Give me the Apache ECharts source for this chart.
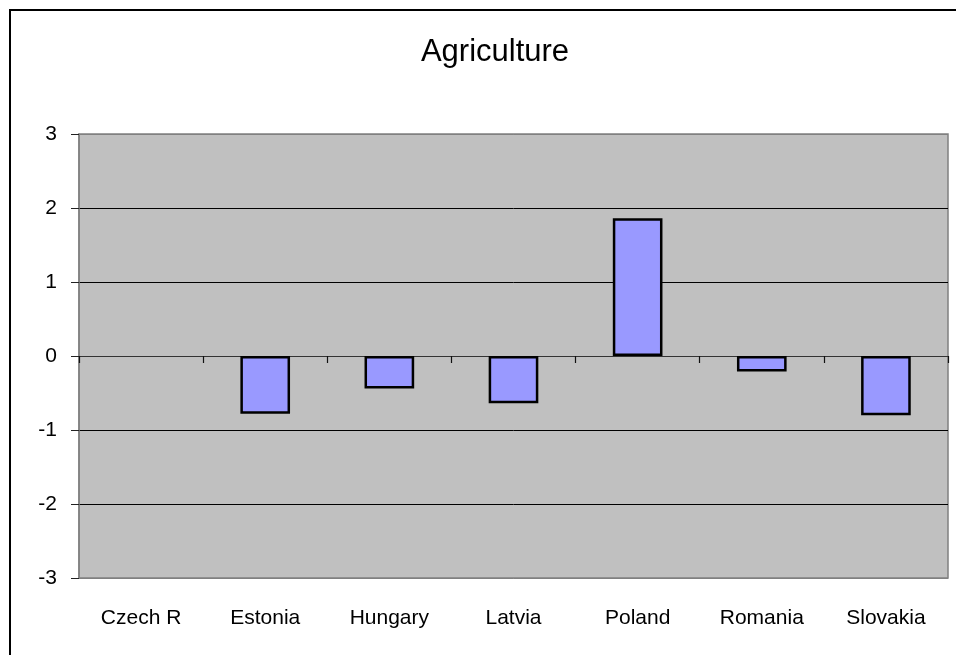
<!DOCTYPE html>
<html>
<head>
<meta charset="utf-8">
<title>Agriculture</title>
<script src="https://cdn.jsdelivr.net/npm/echarts@6/dist/echarts.min.js"></script>
<style>
  html, body { margin: 0; padding: 0; background: #ffffff; }
  #chart { width: 956px; height: 655px; }
</style>
</head>
<body>
<div id="chart"></div>
<script>
// Chart data
const titleText = 'Agriculture';
const countries = ['Czech R', 'Estonia', 'Hungary', 'Latvia', 'Poland', 'Romania', 'Slovakia'];
const agricultureValues = [null, -0.78, -0.44, -0.64, 1.86, -0.21, -0.80];
const yMin = -3;
const yMax = 3;
const yStep = 1;

const FONT = '"Liberation Sans", Arial, sans-serif';

const chart = echarts.init(document.getElementById('chart'), null, { renderer: 'canvas' });

chart.setOption({
  animation: false,
  backgroundColor: '#ffffff',
  title: {
    text: titleText,
    left: 490,
    top: 32,
    textAlign: 'center',
    textStyle: { fontFamily: FONT, fontSize: 31, fontWeight: 'normal', color: '#000' }
  },
  graphic: [{
    type: 'rect',
    shape: { x: 10, y: 10, width: 1000, height: 1000 },
    style: { fill: 'none', stroke: '#000', lineWidth: 2 },
    silent: true,
    z: 100
  }],
  grid: {
    left: 79,
    top: 134,
    right: 8,
    bottom: 77,
    show: true,
    backgroundColor: '#c0c0c0',
    borderColor: '#808080',
    borderWidth: 1.5
  },
  xAxis: [
    {
      // category names along the bottom edge of the plot
      type: 'category',
      data: countries,
      position: 'bottom',
      boundaryGap: true,
      axisLine: { show: false, onZero: false },
      axisTick: { show: false },
      splitLine: { show: false },
      axisLabel: {
        fontFamily: FONT,
        fontSize: 21,
        color: '#000',
        margin: 30,
        interval: 0
      }
    },
    {
      // baseline through zero with boundary ticks hanging below it
      type: 'category',
      data: countries,
      position: 'top',
      boundaryGap: true,
      axisLine: { show: true, onZero: true, lineStyle: { color: '#333', width: 1 } },
      axisTick: { show: true, inside: true, length: 7, alignWithLabel: false, interval: 0, lineStyle: { color: '#111', width: 1.2 } },
      axisLabel: { show: false },
      splitLine: { show: false }
    }
  ],
  yAxis: {
    type: 'value',
    min: yMin,
    max: yMax,
    interval: yStep,
    axisLine: { show: true, lineStyle: { color: '#808080', width: 1.5 } },
    axisTick: { show: true, length: 8, lineStyle: { color: '#222', width: 1 } },
    axisLabel: {
      fontFamily: FONT,
      fontSize: 21,
      color: '#000',
      margin: 22
    },
    splitLine: {
      show: true,
      lineStyle: {
        color: ['#808080', '#000', '#000', '#000', '#000', '#000', '#808080'],
        width: 1
      }
    }
  },
  series: [{
    type: 'bar',
    name: titleText,
    xAxisIndex: 1,
    data: agricultureValues,
    barWidth: '40%',
    itemStyle: {
      color: '#9999ff',
      borderColor: '#000',
      borderWidth: 2.5
    }
  }]
});
</script>
</body>
</html>
